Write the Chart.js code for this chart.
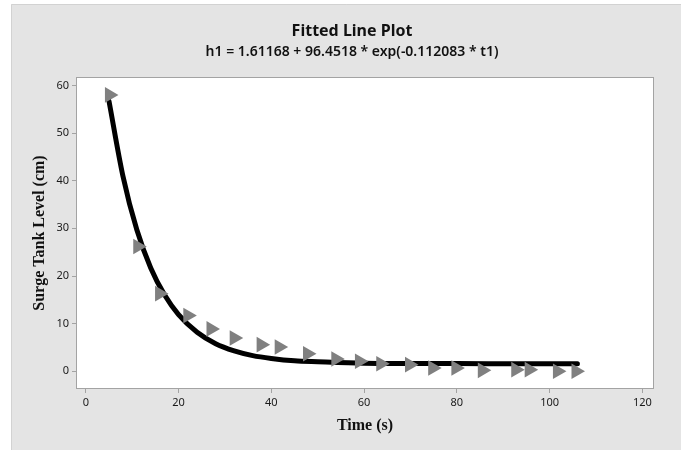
<!DOCTYPE html>
<html>
<head>
<meta charset="utf-8">
<script src="https://cdn.jsdelivr.net/npm/chart.js@4/dist/chart.umd.min.js"></script>
<style>
  html, body { margin: 0; padding: 0; background: #fff; }
  #wrap { width: 686px; height: 450px; }
</style>
</head>
<body>
<div id="wrap"><canvas id="fitPlot" width="686" height="450"></canvas></div>
<script>
// observed points (time in s, surge tank level in cm)
const timeObs = [5.1, 11.2, 15.9, 22.0, 27.0, 32.0, 37.8, 41.7, 47.8, 53.9, 59.0, 63.6, 69.8, 74.8, 79.8, 85.5, 92.7, 95.6, 101.7, 105.7];
const levelObs = [58.0, 26.2, 16.3, 11.7, 8.9, 7.0, 5.6, 5.1, 3.7, 2.6, 2.1, 1.6, 1.4, 0.7, 0.7, 0.2, 0.35, 0.35, 0.0, 0.0];

// fitted curve
const timeFit = [5, 8, 11, 14, 17, 20, 24, 28, 32, 36, 40, 45, 50, 60, 70, 80, 90, 106];
const levelFit = [56.7, 41.0, 29.7, 21.7, 16.0, 11.9, 8.2, 5.8, 4.3, 3.3, 2.7, 2.2, 2.0, 1.7, 1.65, 1.62, 1.61, 1.61];

const xTicks = [0, 20, 40, 60, 80, 100, 120];
const yTicks = [0, 10, 20, 30, 40, 50, 60];

const chartTitle = "Fitted Line Plot";
const chartSubtitle = "h1 = 1.61168 + 96.4518 * exp(-0.112083 * t1)";

const obsPoints = timeObs.map((t, i) => ({ x: t, y: levelObs[i] }));
const fitPoints = timeFit.map((t, i) => ({ x: t, y: levelFit[i] }));

const frame = {
  id: "frame",
  beforeDraw: (chart) => {
    const ctx = chart.ctx;
    const a = chart.chartArea;
    ctx.save();
    ctx.fillStyle = "#ffffff";
    ctx.fillRect(0, 0, chart.width, chart.height);
    ctx.fillStyle = "#e4e4e4";
    ctx.fillRect(11, 4, 670, 446);
    ctx.strokeStyle = "#d2d2d2";
    ctx.lineWidth = 1;
    ctx.beginPath();
    ctx.moveTo(11.5, 450);
    ctx.lineTo(11.5, 4.5);
    ctx.lineTo(681, 4.5);
    ctx.stroke();
    ctx.fillStyle = "#ffffff";
    ctx.fillRect(a.left, a.top, a.right - a.left, a.bottom - a.top);
    ctx.restore();
  },
  afterDraw: (chart) => {
    const ctx = chart.ctx;
    const a = chart.chartArea;
    ctx.save();
    ctx.strokeStyle = "#a3a3a3";
    ctx.lineWidth = 1;
    ctx.strokeRect(a.left - 0.5, a.top - 0.5, a.right - a.left + 1, a.bottom - a.top + 1);
    ctx.fillStyle = "#111";
    ctx.textAlign = "center";
    ctx.textBaseline = "middle";
    ctx.font = "bold 16px 'Noto Sans'";
    ctx.fillText(chartTitle, 352, 31);
    ctx.font = "600 14px 'Noto Sans'";
    ctx.fillText(chartSubtitle, 352, 52);
    ctx.restore();
  },
};

const tickFont = { family: "'Noto Sans'", size: 11 };
const axisTitleFont = { family: "'Liberation Serif'", size: 16, weight: "bold" };

new Chart(document.getElementById("fitPlot"), {
  type: "scatter",
  data: {
    datasets: [
      {
        label: "Data",
        data: obsPoints,
        pointStyle: "triangle",
        rotation: 90,
        pointRadius: 9,
        pointHoverRadius: 9,
        backgroundColor: "#808080",
        borderColor: "#808080",
        borderWidth: 0,
        order: 0,
      },
      {
        label: "Fit",
        data: fitPoints,
        showLine: true,
        pointRadius: 0,
        borderColor: "#000000",
        borderWidth: 5,
        borderCapStyle: "round",
        cubicInterpolationMode: "monotone",
        order: 1,
      },
    ],
  },
  plugins: [frame],
  options: {
    responsive: false,
    animation: false,
    layout: { padding: { top: 78, right: 33, left: 0, bottom: 0 } },
    plugins: {
      legend: { display: false },
      tooltip: { enabled: false },
    },
    scales: {
      x: {
        type: "linear",
        min: -1.9,
        max: 122.3,
        afterBuildTicks: (scale) => {
          scale.ticks = xTicks.map((v) => ({ value: v }));
        },
        afterFit: (scale) => {
          scale.height = 62;
        },
        grid: { drawOnChartArea: false, drawTicks: true, tickLength: 5, color: "#a3a3a3" },
        border: { display: false },
        ticks: { font: tickFont, color: "#1a1a1a", padding: 3, maxRotation: 0 },
        title: {
          display: true,
          text: "Time (s)",
          font: axisTitleFont,
          color: "#111",
          padding: { top: 0, bottom: 15 },
        },
      },
      y: {
        type: "linear",
        min: -3.5,
        max: 61.55,
        afterBuildTicks: (scale) => {
          scale.ticks = yTicks.map((v) => ({ value: v }));
        },
        afterFit: (scale) => {
          scale.width = 77;
        },
        grid: { drawOnChartArea: false, drawTicks: true, tickLength: 5, color: "#a3a3a3" },
        border: { display: false },
        ticks: { font: tickFont, color: "#1a1a1a", padding: 3 },
        title: {
          display: true,
          text: "Surge Tank Level (cm)",
          font: axisTitleFont,
          color: "#111",
          padding: { top: 30, bottom: 0 },
        },
      },
    },
  },
});
</script>
</body>
</html>
